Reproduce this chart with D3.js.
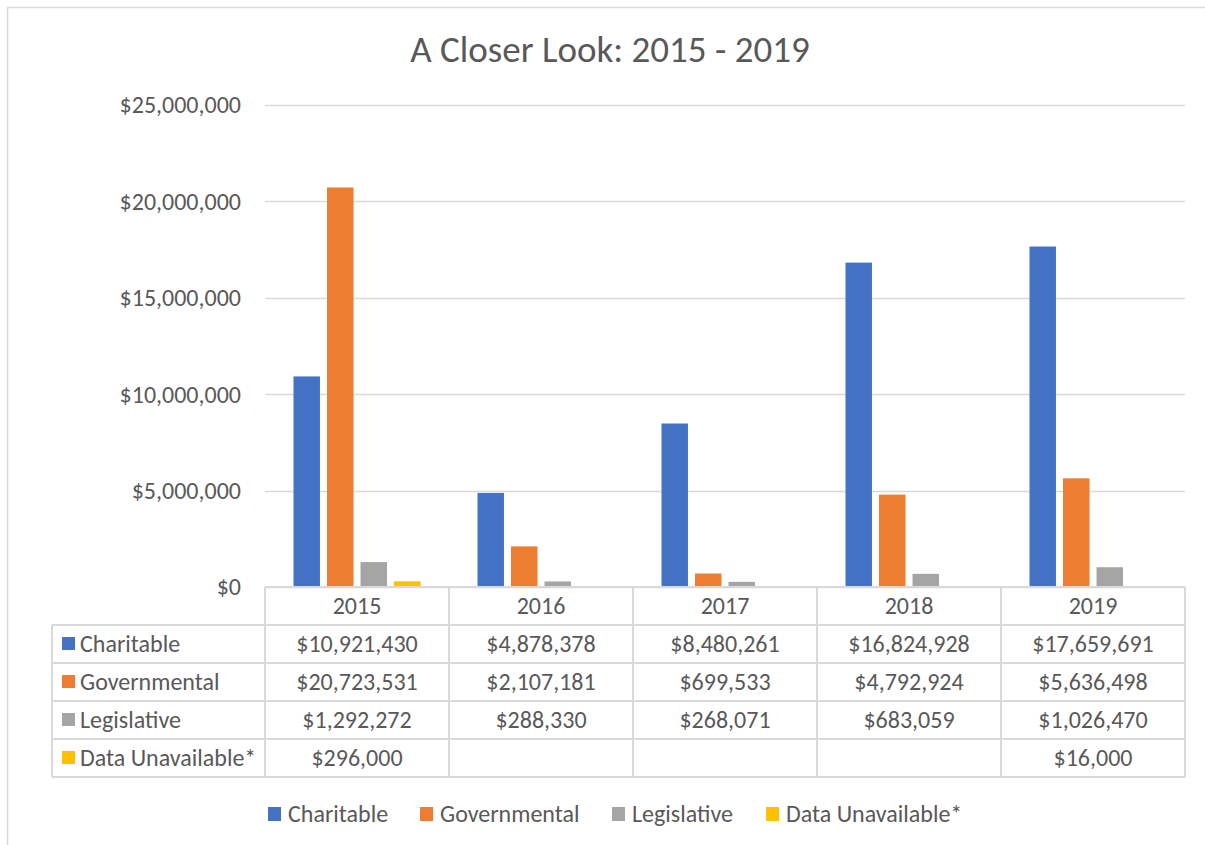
<!DOCTYPE html>
<html>
<head>
<meta charset="utf-8">
<script src="https://cdn.jsdelivr.net/npm/d3@7"></script>
<style>
  body { margin: 0; background: #fff; }
  text { font-family: Carlito, Calibri, Lato, sans-serif; fill: #595959; }
</style>
</head>
<body>
<script>
// values
var years = ["2015", "2016", "2017", "2018", "2019"];
var seriesNames = ["Charitable", "Governmental", "Legislative", "Data Unavailable*"];
var charitable = [10921430, 4878378, 8480261, 16824928, 17659691];
var governmental = [20723531, 2107181, 699533, 4792924, 5636498];
var legislative = [1292272, 288330, 268071, 683059, 1026470];
var dataUnavailable = [296000, null, null, null, 16000];
var yTicks = [0, 5000000, 10000000, 15000000, 20000000, 25000000];
var colors = ["#4472C4", "#ED7D31", "#A5A5A5", "#FFC000"];

var series = [charitable, governmental, legislative, dataUnavailable];

var W = 1205, H = 845;
var plot = {left: 265, right: 1185, top: 105, bottom: 587};
var rowH = 38;
var labelLeft = 52;
var fontSize = "24px";

var svg = d3.select("body").append("svg")
    .attr("width", W)
    .attr("height", H);

// chart frame (clipped at right and bottom like the reference)
svg.append("rect")
    .attr("x", 7.5).attr("y", 7.5)
    .attr("width", W + 20).attr("height", H + 20)
    .attr("fill", "#fff")
    .attr("stroke", "#D9D9D9")
    .attr("stroke-width", 1.5);

svg.append("text")
    .attr("x", 610).attr("y", 62)
    .attr("text-anchor", "middle")
    .style("font-size", "37px")
    .text("A Closer Look: 2015 - 2019");

var xScale = d3.scaleBand()
    .domain(years)
    .range([plot.left, plot.right]);

var xInner = d3.scaleBand()
    .domain(d3.range(series.length))
    .range([0, xScale.bandwidth()])
    .paddingInner(0.21)
    .paddingOuter(0.85);

var yScale = d3.scaleLinear()
    .domain([0, 25000000])
    .range([plot.bottom, plot.top]);

var fmt = d3.format("$,");

// gridlines
svg.append("g")
    .selectAll("line")
    .data(yTicks)
    .join("line")
    .attr("x1", plot.left).attr("x2", plot.right)
    .attr("y1", function(d) { return Math.round(yScale(d)) + 0.5; })
    .attr("y2", function(d) { return Math.round(yScale(d)) + 0.5; })
    .attr("stroke", "#D9D9D9")
    .attr("stroke-width", 1.3);

var yAxis = svg.append("g")
    .attr("transform", "translate(" + (plot.left - 24) + ",0)")
    .call(d3.axisLeft(yScale).tickValues(yTicks).tickFormat(fmt).tickSize(0));
yAxis.select(".domain").remove();
yAxis.selectAll("text")
    .attr("x", 0)
    .attr("dy", "0.33em")
    .style("font-size", fontSize)
    .style("font-family", null)
    .attr("fill", "#595959");

// bars
series.forEach(function(vals, si) {
  svg.append("g")
    .selectAll("rect")
    .data(years.map(function(y, i) { return {year: y, value: vals[i]}; })
      .filter(function(d) { return d.value != null; }))
    .join("rect")
    .attr("x", function(d) { return xScale(d.year) + xInner(si); })
    .attr("width", xInner.bandwidth())
    .attr("y", function(d) { return yScale(d.value); })
    .attr("height", function(d) { return plot.bottom - yScale(d.value); })
    .attr("fill", colors[si]);
});

// data table
var table = svg.append("g");
var tableBottom = plot.bottom + rowH * (series.length + 1);
var lineColor = "#D9D9D9";

// horizontal lines
table.append("line")
  .attr("x1", plot.left).attr("x2", plot.right)
  .attr("y1", plot.bottom).attr("y2", plot.bottom);
d3.range(1, series.length + 2).forEach(function(r) {
  table.append("line")
    .attr("x1", labelLeft).attr("x2", plot.right)
    .attr("y1", plot.bottom + r * rowH).attr("y2", plot.bottom + r * rowH);
});
// vertical lines
years.forEach(function(y) {
  table.append("line")
    .attr("x1", xScale(y)).attr("x2", xScale(y))
    .attr("y1", plot.bottom).attr("y2", tableBottom);
});
table.append("line")
  .attr("x1", plot.right).attr("x2", plot.right)
  .attr("y1", plot.bottom).attr("y2", tableBottom);
table.append("line")
  .attr("x1", labelLeft).attr("x2", labelLeft)
  .attr("y1", plot.bottom + rowH).attr("y2", tableBottom);
table.selectAll("line")
  .attr("stroke", lineColor)
  .attr("stroke-width", 2);

// header row
table.selectAll("text.year")
  .data(years)
  .join("text")
  .attr("class", "year")
  .attr("x", function(d) { return xScale(d) + xScale.bandwidth() / 2; })
  .attr("y", plot.bottom + rowH / 2)
  .attr("dy", "0.33em")
  .attr("text-anchor", "middle")
  .style("font-size", fontSize)
  .text(function(d) { return d; });

series.forEach(function(vals, si) {
  var yMid = plot.bottom + rowH * (si + 1) + rowH / 2;
  table.append("rect")
    .attr("x", 62).attr("y", yMid - 7)
    .attr("width", 13).attr("height", 13)
    .attr("fill", colors[si]);
  table.append("text")
    .attr("x", 80).attr("y", yMid)
    .attr("dy", "0.33em")
    .style("font-size", fontSize)
    .text(seriesNames[si]);
  table.selectAll("text.v" + si)
    .data(years.map(function(y, i) { return {year: y, value: vals[i]}; }))
    .join("text")
    .attr("class", "v" + si)
    .attr("x", function(d) { return xScale(d.year) + xScale.bandwidth() / 2; })
    .attr("y", yMid)
    .attr("dy", "0.33em")
    .attr("text-anchor", "middle")
    .style("font-size", fontSize)
    .text(function(d) { return d.value == null ? "" : fmt(d.value); });
});

// legend
var legendX = [268, 420, 612, 766];
var legend = svg.append("g");
seriesNames.forEach(function(name, i) {
  legend.append("rect")
    .attr("x", legendX[i]).attr("y", 807)
    .attr("width", 13).attr("height", 14)
    .attr("fill", colors[i]);
  legend.append("text")
    .attr("x", legendX[i] + 20).attr("y", 814)
    .attr("dy", "0.33em")
    .style("font-size", fontSize)
    .text(name);
});
</script>
</body>
</html>
